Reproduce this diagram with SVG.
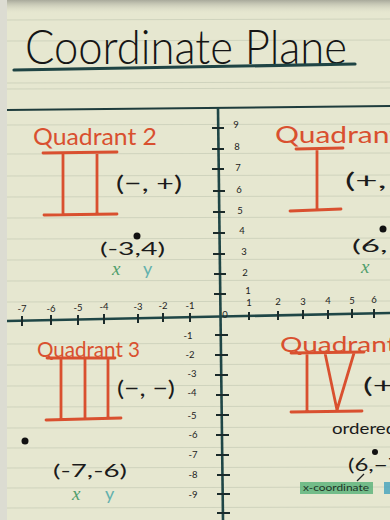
<svg xmlns="http://www.w3.org/2000/svg" width="390" height="520" viewBox="0 0 390 520">
  <defs>
    <linearGradient id="topShade" x1="0" y1="0" x2="0" y2="1">
      <stop offset="0" stop-color="#a8a99b"/>
      <stop offset="1" stop-color="#e4e5cf" stop-opacity="0"/>
    </linearGradient>
  </defs>
  <style>
    .hand { font-family: "Lato", "Open Sans", sans-serif; fill: #1b1b1b; }
    .title { font-family: "Lato", "Open Sans", sans-serif; font-weight: 300; fill: #151515; }
    .quad { font-family: "Lato", "Open Sans", sans-serif; font-weight: 400; fill: #d9502f; }
    .roman { stroke: #d9502f; stroke-width: 2.8; fill: none; stroke-linecap: round; }
    .rule { stroke: #cfd3bd; stroke-width: 1; }
    .axis { stroke: #1f4646; stroke-width: 2.6; fill: none; }
    .tick { stroke: #1b2b2b; stroke-width: 2; }
    .num { font-family: "Lato", "Open Sans", sans-serif; fill: #222; font-size: 9.5px; text-anchor: middle; }
    .xv { font-family: "Liberation Serif", serif; font-style: italic; fill: #4f9e6c; font-size: 19px; }
    .yv { font-family: "Lato", "Open Sans", sans-serif; fill: #63b1ad; font-size: 18px; }
    .dot { fill: #111; }
  </style>

  <!-- paper -->
  <rect x="0" y="0" width="390" height="520" fill="#e6e7d0"/>
  <rect x="0" y="0" width="390" height="14" fill="url(#topShade)"/>
  <rect x="0" y="0" width="7" height="520" fill="#dcdcd2"/>

  <!-- ruled lines -->
  <g id="rules">
    <line class="rule" x1="7" y1="20" x2="390" y2="19"/>
    <line class="rule" x1="7" y1="41" x2="390" y2="40"/>
    <line class="rule" x1="7" y1="83" x2="390" y2="82"/>
    <line class="rule" x1="7" y1="89" x2="390" y2="88"/>
    <line class="rule" x1="7" y1="125" x2="390" y2="124"/>
    <line class="rule" x1="7" y1="154" x2="390" y2="153"/>
    <line class="rule" x1="7" y1="176" x2="390" y2="175"/>
    <line class="rule" x1="7" y1="197" x2="390" y2="196"/>
    <line class="rule" x1="7" y1="218" x2="390" y2="217"/>
    <line class="rule" x1="7" y1="239" x2="390" y2="238"/>
    <line class="rule" x1="7" y1="260" x2="390" y2="259"/>
    <line class="rule" x1="7" y1="281" x2="390" y2="280"/>
    <line class="rule" x1="7" y1="302" x2="390" y2="301"/>
    <line class="rule" x1="7" y1="344" x2="390" y2="343"/>
    <line class="rule" x1="7" y1="365" x2="390" y2="364"/>
    <line class="rule" x1="7" y1="386" x2="390" y2="385"/>
    <line class="rule" x1="7" y1="407" x2="390" y2="406"/>
    <line class="rule" x1="7" y1="428" x2="390" y2="427"/>
    <line class="rule" x1="7" y1="448" x2="390" y2="447"/>
    <line class="rule" x1="7" y1="468" x2="390" y2="467"/>
    <line class="rule" x1="7" y1="488" x2="390" y2="487"/>
    <line class="rule" x1="7" y1="508" x2="390" y2="507"/>
  </g>

  <!-- title -->
  <g id="title">
    <text class="title" x="25" y="64" font-size="48" textLength="322" lengthAdjust="spacingAndGlyphs">Coordinate Plane</text>
    <path d="M14 70 Q180 67 355 64" stroke="#1f4444" stroke-width="3.2" fill="none" stroke-linecap="round"/>
  </g>

  <!-- axes and divider -->
  <g id="connectors">
    <line x1="7" y1="110" x2="390" y2="106" stroke="#1e3c3c" stroke-width="2"/>
    <line class="axis" x1="218" y1="108" x2="223" y2="520"/>
    <line class="axis" x1="7" y1="321" x2="390" y2="313"/>
    <!-- y ticks -->
    <line class="tick" x1="212" y1="128" x2="224" y2="128"/>
    <line class="tick" x1="212" y1="149" x2="224" y2="149"/>
    <line class="tick" x1="212" y1="169" x2="224" y2="169"/>
    <line class="tick" x1="213" y1="191" x2="225" y2="191"/>
    <line class="tick" x1="213" y1="212" x2="225" y2="212"/>
    <line class="tick" x1="213" y1="233" x2="225" y2="233"/>
    <line class="tick" x1="213" y1="254" x2="225" y2="254"/>
    <line class="tick" x1="214" y1="274" x2="226" y2="274"/>
    <line class="tick" x1="214" y1="294" x2="226" y2="294"/>
    <line class="tick" x1="215" y1="335" x2="228" y2="335"/>
    <line class="tick" x1="215" y1="355" x2="228" y2="355"/>
    <line class="tick" x1="215" y1="375" x2="228" y2="375"/>
    <line class="tick" x1="216" y1="395" x2="229" y2="395"/>
    <line class="tick" x1="216" y1="415" x2="229" y2="415"/>
    <line class="tick" x1="216" y1="435" x2="229" y2="435"/>
    <line class="tick" x1="216" y1="455" x2="229" y2="455"/>
    <line class="tick" x1="217" y1="475" x2="230" y2="475"/>
    <line class="tick" x1="217" y1="494" x2="230" y2="494"/>
    <line class="tick" x1="217" y1="513" x2="230" y2="513"/>
    <!-- x ticks -->
    <line class="tick" x1="22" y1="316" x2="22" y2="326"/>
    <line class="tick" x1="51" y1="315" x2="51" y2="325"/>
    <line class="tick" x1="78" y1="315" x2="78" y2="325"/>
    <line class="tick" x1="104" y1="314" x2="104" y2="324"/>
    <line class="tick" x1="138" y1="314" x2="138" y2="323"/>
    <line class="tick" x1="163" y1="313" x2="163" y2="322"/>
    <line class="tick" x1="190" y1="313" x2="190" y2="322"/>
    <line class="tick" x1="249" y1="312" x2="249" y2="320"/>
    <line class="tick" x1="278" y1="311" x2="278" y2="320"/>
    <line class="tick" x1="303" y1="310" x2="303" y2="319"/>
    <line class="tick" x1="328" y1="310" x2="328" y2="319"/>
    <line class="tick" x1="352" y1="309" x2="352" y2="318"/>
    <line class="tick" x1="374" y1="309" x2="374" y2="318"/>
  </g>

  <!-- axis numbers -->
  <g id="axis-labels">
    <text class="num" x="22" y="312">-7</text>
    <text class="num" x="51" y="312">-6</text>
    <text class="num" x="78" y="311">-5</text>
    <text class="num" x="104" y="310">-4</text>
    <text class="num" x="138" y="310">-3</text>
    <text class="num" x="163" y="309">-2</text>
    <text class="num" x="190" y="309">-1</text>
    <text class="num" x="225" y="318" font-size="11">0</text>
    <text class="num" x="249" y="306">1</text>
    <text class="num" x="278" y="305">2</text>
    <text class="num" x="303" y="305">3</text>
    <text class="num" x="328" y="304">4</text>
    <text class="num" x="352" y="304">5</text>
    <text class="num" x="374" y="303">6</text>
    <text class="num" x="236" y="128">9</text>
    <text class="num" x="237" y="150">8</text>
    <text class="num" x="238" y="171">7</text>
    <text class="num" x="239" y="193">6</text>
    <text class="num" x="240" y="214">5</text>
    <text class="num" x="242" y="234">4</text>
    <text class="num" x="244" y="255">3</text>
    <text class="num" x="245" y="276">2</text>
    <text class="num" x="248" y="294">1</text>
    <text class="num" x="188" y="339">-1</text>
    <text class="num" x="190" y="358">-2</text>
    <text class="num" x="192" y="377">-3</text>
    <text class="num" x="192" y="396">-4</text>
    <text class="num" x="192" y="419">-5</text>
    <text class="num" x="193" y="438">-6</text>
    <text class="num" x="193" y="458">-7</text>
    <text class="num" x="193" y="478">-8</text>
    <text class="num" x="193" y="498">-9</text>
  </g>

  <!-- Quadrant 2 -->
  <g id="quadrant2">
    <text class="quad" x="33" y="145" font-size="24" textLength="124" lengthAdjust="spacingAndGlyphs">Quadrant 2</text>
    <path class="roman" d="M43 153 L117 152 M44 215 L117 214 M63 153 L63 214 M97 153 L97 214"/>
    <text class="hand" x="116" y="191" font-size="22" textLength="66" lengthAdjust="spacingAndGlyphs">(−, +)</text>
    <circle class="dot" cx="137" cy="236" r="3.5"/>
    <text class="hand" x="100" y="255" font-size="17" textLength="65" lengthAdjust="spacingAndGlyphs">(-3,4)</text>
    <text class="xv" x="112" y="275">x</text>
    <text class="yv" x="143" y="275">y</text>
  </g>

  <!-- Quadrant 1 -->
  <g id="quadrant1">
    <text class="quad" x="275" y="143" font-size="24" textLength="150" lengthAdjust="spacingAndGlyphs">Quadrant 1</text>
    <path class="roman" d="M296 149 L343 148 M290 211 L341 209 M317 149 L317 210"/>
    <text class="hand" x="345" y="188" font-size="22" textLength="84" lengthAdjust="spacingAndGlyphs">(+, +)</text>
    <circle class="dot" cx="383" cy="229" r="3.5"/>
    <text class="hand" x="352" y="252" font-size="17" textLength="72" lengthAdjust="spacingAndGlyphs">(6, 4)</text>
    <text class="xv" x="361" y="273">x</text>
  </g>

  <!-- Quadrant 3 -->
  <g id="quadrant3">
    <text class="quad" x="37" y="357" font-size="22" textLength="103" lengthAdjust="spacingAndGlyphs">Quadrant 3</text>
    <path class="roman" d="M47 358 L115 358 M46 420 L121 418 M61 358 L61 419 M85 358 L85 419 M108 358 L108 418"/>
    <text class="hand" x="117" y="396" font-size="22" textLength="58" lengthAdjust="spacingAndGlyphs">(−, −)</text>
    <circle class="dot" cx="25" cy="441" r="3.5"/>
    <text class="hand" x="53" y="477" font-size="18" textLength="74" lengthAdjust="spacingAndGlyphs">(-7,-6)</text>
    <text class="xv" x="72" y="500">x</text>
    <text class="yv" x="105" y="500">y</text>
  </g>

  <!-- Quadrant 4 -->
  <g id="quadrant4">
    <text class="quad" x="280" y="352" font-size="22" textLength="140" lengthAdjust="spacingAndGlyphs">Quadrant 4</text>
    <path class="roman" d="M291 353 L364 352 M291 412 L362 411 M307 353 L307 411 M325 353 L337 410 L354 353"/>
    <text class="hand" x="363" y="393" font-size="22" textLength="80" lengthAdjust="spacingAndGlyphs">(+, −)</text>
    <text class="hand" x="332" y="434" font-size="15" textLength="100" lengthAdjust="spacingAndGlyphs">ordered pair</text>
    <circle class="dot" cx="375" cy="452" r="3"/>
    <text class="hand" x="348" y="471" font-size="18" textLength="60" lengthAdjust="spacingAndGlyphs">(6,−7)</text>
    <line x1="364" y1="474" x2="357" y2="481" stroke="#222" stroke-width="1.2"/>
    <rect x="300" y="482" width="73" height="12" fill="#5eb47c" opacity="0.85"/>
    <text x="303" y="491" font-family="Lato, 'Open Sans', sans-serif" font-size="9" fill="#1d3526" textLength="66" lengthAdjust="spacingAndGlyphs">x-coordinate</text>
    <rect x="384" y="482" width="10" height="12" fill="#4aa4bd" opacity="0.85"/>
  </g>
</svg>
